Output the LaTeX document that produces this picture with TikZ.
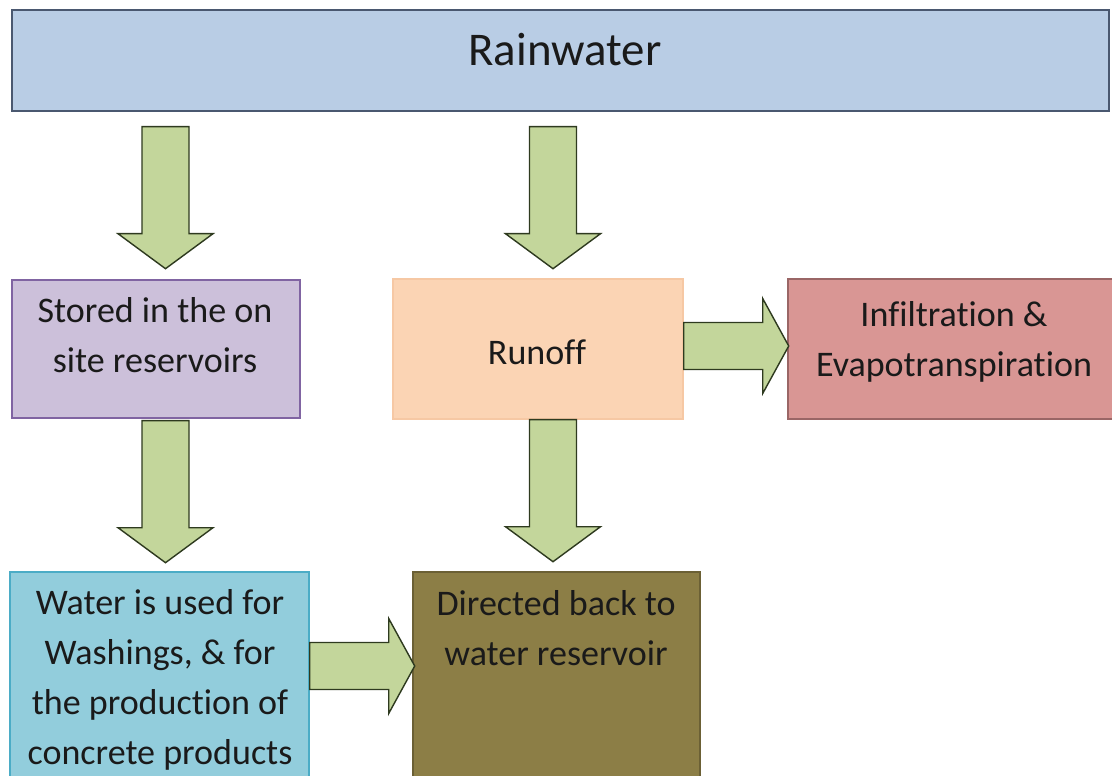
\documentclass[tikz,border=0pt]{standalone}
\usepackage{fontspec}
\setmainfont{Carlito}[Ligatures=NoCommon]
\usetikzlibrary{calc,fit}

\definecolor{rainfill}{HTML}{B9CDE5}
\definecolor{raindraw}{HTML}{4A5870}
\definecolor{storefill}{HTML}{CCC0DA}
\definecolor{storedraw}{HTML}{8064A2}
\definecolor{runofffill}{HTML}{FBD4B4}
\definecolor{runoffdraw}{HTML}{F6C8A4}
\definecolor{infilfill}{HTML}{D99694}
\definecolor{infildraw}{HTML}{9A6666}
\definecolor{usefill}{HTML}{92CDDC}
\definecolor{usedraw}{HTML}{4BACC6}
\definecolor{backfill}{HTML}{8C7E46}
\definecolor{backdraw}{HTML}{6B6035}
\definecolor{arrowfill}{HTML}{C3D69B}
\definecolor{arrowdraw}{HTML}{2E3A1F}
\definecolor{inktext}{HTML}{1A1A1A}

\tikzset{
  box/.style={draw=#1, line width=0.8pt, inner sep=0pt},
  txt/.style={align=center, inner sep=0pt, text=inktext,
    font={\fontsize{20.5}{28.45}\selectfont}},
  flow/.style={fill=arrowfill, draw=arrowdraw, line width=0.8pt},
  arrowdown/.pic={\draw[flow] (-\shaftW,0) -- (\shaftW,0) -- (\shaftW,\shaftL)
    -- (\headW,\shaftL) -- (0,\tipL) -- (-\headW,\shaftL) -- (-\shaftW,\shaftL) -- cycle;},
  arrowright/.pic={\draw[flow] (0,-\shaftW) -- (\sideL,-\shaftW) -- (\sideL,-\headW)
    -- (\sideTip,0) -- (\sideL,\headW) -- (\sideL,\shaftW) -- (0,\shaftW) -- cycle;}
}

\begin{document}
\begin{tikzpicture}[x=0.02cm, y=-0.02cm]
    % sizes of the block arrows (in pixels of the picture)
    \pgfmathsetmacro{\shaftW}{23.5}
    \pgfmathsetmacro{\headW}{47.5}
    \pgfmathsetmacro{\shaftL}{107}
    \pgfmathsetmacro{\tipL}{142}
    \pgfmathsetmacro{\sideL}{79}
    \pgfmathsetmacro{\sideTip}{105}

    \useasboundingbox (0,0) rectangle (1112,776);
    \clip (0,0) rectangle (1112,776);

    % boxes
    \node[box=raindraw, fill=rainfill, fit={(12,10) (1109,111)}] (rain) {};
    \node[box=storedraw, fill=storefill, fit={(12,280) (300,418)}] (stored) {};
    \node[box=runoffdraw, fill=runofffill, fit={(393,279) (683,419)}] (runoff) {};
    \node[box=infildraw, fill=infilfill, fit={(788,279) (1114,419)}] (infil) {};
    \node[box=usedraw, fill=usefill, fit={(10,572) (309,780)}] (water) {};
    \node[box=backdraw, fill=backfill, fit={(413,572) (700,780)}] (back) {};

    % texts
    \node[txt, font={\fontsize{26.7}{32}\selectfont}] (raintxt) at (565,50) {Rainwater};
    \node[txt] (storedtxt) at (155,335) {Stored in the on\\site reservoirs};
    \node[txt] (runofftxt) at (537,352) {Runoff};
    \node[txt] (infiltxt) at (954,341.5) {Infiltration \&\\Evapotranspiration};
    \node[txt] (watertxt) at (160,680) {Water is used for\\Washings, \& for\\the production of\\concrete products};
    \node[txt] (backtxt) at (556,628) {Directed back to\\water reservoir};

    % block arrows between the boxes
    \pic at ($(stored.north |- rain.south)+(9.5,15)$) {arrowdown};
    \pic at ($(runoff.north |- rain.south)+(15,15)$) {arrowdown};
    \pic at ($(stored.south)+(9.5,2)$) {arrowdown};
    \pic at ($(runoff.south)+(15,0)$) {arrowdown};
    \pic at ($(runoff.east)+(0,-3)$) {arrowright};
    \pic at ($(water.east)+(0,-10)$) {arrowright};
\end{tikzpicture}
\end{document}
